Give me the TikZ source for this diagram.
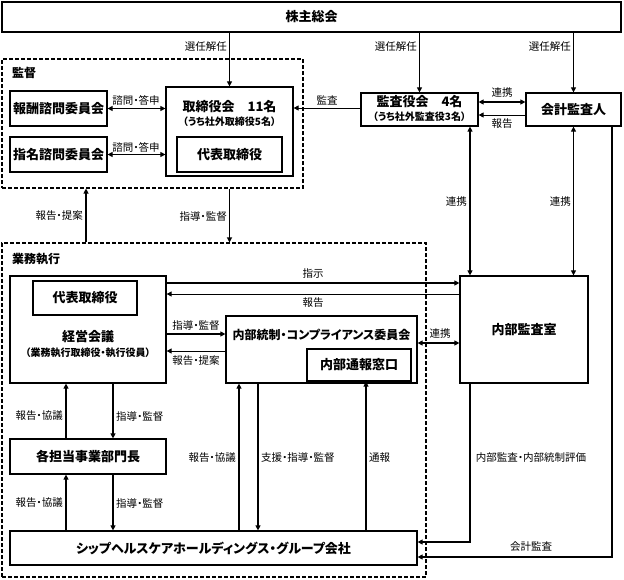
\documentclass[tikz,border=0pt]{standalone}
\usepackage{fontspec}
\setmainfont{Noto Sans CJK JP}[RawFeature={+palt}]
\usetikzlibrary{arrows.meta}
\tikzset{
  box/.style={draw, line width=1.2pt, fill=white, inner sep=0pt, font=\fontsize{13}{15}\selectfont\bfseries},
  plain/.style={inner sep=0pt, font=\fontsize{13}{15}\selectfont\bfseries},
  sub/.style={inner sep=0pt, font=\fontsize{10}{12}\selectfont\bfseries},
  grp/.style={draw, line width=1.1pt, dash pattern=on 4pt off 2pt, inner sep=0pt},
  grplbl/.style={inner sep=0pt, anchor=west, font=\fontsize{12}{14}\selectfont\bfseries},
  lbl/.style={inner sep=1pt, font=\fontsize{10.5}{12}\selectfont},
  conn/.style={line width=1.1pt},
  thin/.style={line width=0.8pt},
  tip/.style={-{Triangle[length=5pt,width=5pt]}},
  both/.style={{Triangle[length=5pt,width=5pt]}-{Triangle[length=5pt,width=5pt]}}
}
\begin{document}
\begin{tikzpicture}[x=1pt,y=-1pt]
\useasboundingbox (0,0) rectangle (624,579);
% groups
\node[grp, minimum width=301pt, minimum height=129pt] (kantoku) at (152.5,123.5) {};
\node[grplbl] (kantokulbl) at (12,73) {監督};
\node[grp, minimum width=424pt, minimum height=334pt] (gyomu) at (214,410) {};
\node[grplbl] (gyomulbl) at (12,259) {業務執行};
% boxes
\node[box, minimum width=619pt, minimum height=30pt] (sh) at (311.5,17) {株主総会};
\node[box, minimum width=97pt, minimum height=35pt] (hoshu) at (58.5,108.5) {報酬諮問委員会};
\node[box, minimum width=97pt, minimum height=35pt] (shimei) at (58.5,154.5) {指名諮問委員会};
\node[box, minimum width=127pt, minimum height=89pt] (bod) at (229.5,131.5) {};
\node[plain] (bodt) at (229.5,107) {取締役会　11名};
\node[sub] (bods) at (229.5,122) {（うち社外取締役5名）};
\node[box, minimum width=105pt, minimum height=35pt] (daihyo1) at (229.5,154.5) {代表取締役};
\node[box, minimum width=117pt, minimum height=33pt] (kansa) at (419.5,109.5) {};
\node[plain] (kansat) at (419.5,102) {監査役会　4名};
\node[sub] (kansas) at (419.5,117) {（うち社外監査役3名）};
\node[box, minimum width=95pt, minimum height=33pt] (kaikei) at (573.5,109.5) {会計監査人};
\node[box, minimum width=156pt, minimum height=107pt] (keiei) at (88,329.5) {};
\node[box, minimum width=104pt, minimum height=34pt] (daihyo2) at (85,298) {代表取締役};
\node[plain] (keieit) at (88,337) {経営会議};
\node[sub] (keieis) at (88,353) {（業務執行取締役・執行役員）};
\node[box, minimum width=191pt, minimum height=67pt] (naibu) at (321.5,349.5) {};
\node[plain, font=\fontsize{12}{14}\selectfont\bfseries] (naibut) at (321.5,335) {内部統制・コンプライアンス委員会};
\node[box, minimum width=104pt, minimum height=32pt] (tsuho) at (359,365) {内部通報窓口};
\node[box, minimum width=128pt, minimum height=107pt] (audit) at (524,329.5) {内部監査室};
\node[box, minimum width=156pt, minimum height=35pt] (kaku) at (88,456.5) {各担当事業部門長};
\node[box, minimum width=407pt, minimum height=34pt] (group) at (213.5,548) {シップヘルスケアホールディングス・グループ会社};
% connectors from 株主総会
\draw[conn,tip] (sh.south -| bod.north) -- (bod.north);
\draw[conn,tip] (sh.south -| kansa.north) -- (kansa.north);
\draw[conn,tip] (sh.south -| kaikei.north) -- (kaikei.north);
\node[lbl, anchor=east] (l1) at (228,47) {選任解任};
\node[lbl, anchor=east] (l2) at (418,47) {選任解任};
\node[lbl, anchor=east] (l3) at (572,47) {選任解任};
% 監督 internal
\draw[conn,both] (hoshu.east) -- (hoshu.east -| bod.west);
\draw[conn,both] (shimei.east) -- (shimei.east -| bod.west);
\node[lbl] (l4) at (136,100) {諮問・答申};
\node[lbl] (l5) at (136,147) {諮問・答申};
\draw[thin,tip] (kansa.west |- 0,108) -- (bod.east |- 0,108);
\node[lbl] (l6) at (327,100) {監査};
\draw[conn,both] (kansa.east |- 0,102) -- (kaikei.west |- 0,102);
\draw[thin,tip] (kaikei.west |- 0,115) -- (kansa.east |- 0,115);
\node[lbl] (l7) at (502,93) {連携};
\node[lbl] (l8) at (502,124) {報告};
% verticals to 内部監査室
\draw[conn,both] (kansa.south -| 470,0) -- (audit.north -| 470,0);
\draw[conn,both] (kaikei.south) -- (audit.north -| kaikei.south);
\node[lbl, anchor=east] (l9) at (468,202) {連携};
\node[lbl, anchor=east] (l10) at (572,202) {連携};
% between groups
\draw[conn,tip] (gyomu.north -| 86,0) -- (kantoku.south -| 86,0);
\draw[conn,tip] (kantoku.south -| bod.south) -- (gyomu.north -| bod.south);
\node[lbl, anchor=east] (l11) at (84,216) {報告・提案};
\node[lbl, anchor=east] (l12) at (228,216) {指導・監督};
% 経営会議 <-> 内部監査室
\draw[conn,tip] (keiei.east |- 0,283) -- (audit.west |- 0,283);
\draw[thin,tip] (audit.west |- 0,294) -- (keiei.east |- 0,294);
\node[lbl] (l13) at (313,274) {指示};
\node[lbl] (l14) at (313,303) {報告};
% 経営会議 <-> 内部統制
\draw[conn,tip] (keiei.east |- 0,334) -- (naibu.west |- 0,334);
\draw[thin,tip] (naibu.west |- 0,351) -- (keiei.east |- 0,351);
\node[lbl] (l15) at (196,325) {指導・監督};
\node[lbl] (l16) at (196,361) {報告・提案};
\draw[conn,both] (naibu.east |- 0,343) -- (audit.west |- 0,343);
\node[lbl] (l17) at (440,334) {連携};
% 経営会議 / 各担当 / グループ
\draw[conn,tip] (kaku.north -| 66,0) -- (keiei.south -| 66,0);
\draw[conn,tip] (keiei.south -| 113,0) -- (kaku.north -| 113,0);
\node[lbl, anchor=east] (l18) at (64,416) {報告・協議};
\node[lbl, anchor=west] (l19) at (115,416) {指導・監督};
\draw[conn,tip] (group.north -| 66,0) -- (kaku.south -| 66,0);
\draw[conn,tip] (kaku.south -| 113,0) -- (group.north -| 113,0);
\node[lbl, anchor=east] (l20) at (64,503) {報告・協議};
\node[lbl, anchor=west] (l21) at (115,503) {指導・監督};
% グループ <-> 内部統制
\draw[conn,tip] (group.north -| 239,0) -- (naibu.south -| 239,0);
\draw[conn,tip] (naibu.south -| 258,0) -- (group.north -| 258,0);
\draw[conn,tip] (group.north -| 366,0) -- (tsuho.south -| 366,0);
\node[lbl, anchor=east] (l22) at (237,458) {報告・協議};
\node[lbl, anchor=west] (l23) at (260,458) {支援・指導・監督};
\node[lbl, anchor=west] (l24) at (368,458) {通報};
% 内部監査室 / 会計監査人 -> グループ
\coordinate (c1) at (470,542);
\coordinate (c2) at (612,557);
\draw[conn,tip] (audit.south -| c1) -- (c1) -- (group.east |- c1);
\draw[conn,tip] (kaikei.south -| c2) -- (c2) -- (group.east |- c2);
\node[lbl] (l25) at (531,458) {内部監査・内部統制評価};
\node[lbl] (l26) at (531,547) {会計監査};
\end{tikzpicture}
\end{document}
